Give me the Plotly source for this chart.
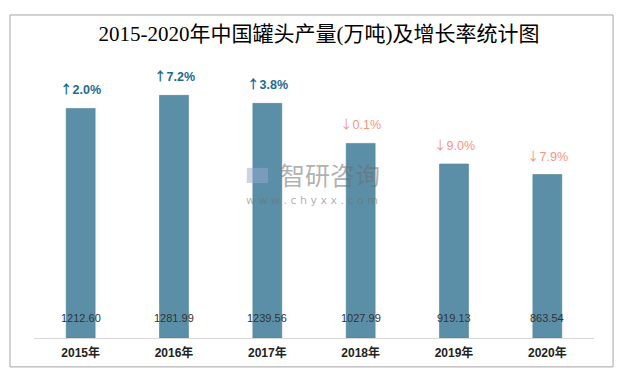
import plotly.graph_objects as go

years = ["2015年", "2016年", "2017年", "2018年", "2019年", "2020年"]
output = [1212.60, 1281.99, 1239.56, 1027.99, 919.13, 863.54]
growth = [2.0, 7.2, 3.8, -0.1, -9.0, -7.9]

UP = "#1C6A93"
DOWN = "#F4957E"
ARROW_SPAN = '<span style="font-family:Noto Sans CJK SC">{}</span>'

fig = go.Figure()
fig.add_trace(go.Bar(
    x=years, y=output, width=0.31,
    marker=dict(color="#5B8FA8", line=dict(color="#4F8199", width=0.6)),
    hoverinfo="x+y",
))

annotations = []
for x, v, g in zip(years, output, growth):
    annotations.append(dict(
        x=x, y=0, xref="x", yref="y", yanchor="bottom", yshift=12,
        text=f"{v:.2f}", showarrow=False,
        font=dict(family="Liberation Sans, Arial, sans-serif", size=11, color="#333333"),
    ))
    if g >= 0:
        txt = "<b>" + ARROW_SPAN.format("↑") + f"{abs(g):.1f}%</b>"
        col = UP
    else:
        txt = ARROW_SPAN.format("↓") + f"{abs(g):.1f}%"
        col = DOWN
    annotations.append(dict(
        x=x, y=v, xref="x", yref="y", yanchor="bottom", yshift=8,
        text=txt, showarrow=False,
        font=dict(family="Liberation Sans, Noto Sans CJK SC, sans-serif", size=12.5, color=col),
    ))

# watermark
annotations.append(dict(
    x=0.529, y=0.618, xref="paper", yref="paper", text="智研咨询", showarrow=False,
    xanchor="center", yanchor="middle",
    font=dict(family="Noto Sans CJK SC", size=25, color="rgba(110,110,110,0.55)"),
))
annotations.append(dict(
    x=0.496, y=0.518, xref="paper", yref="paper", text="w w w . c h y x x . c o m", showarrow=False,
    xanchor="center", yanchor="middle",
    font=dict(family="DejaVu Sans", size=11, color="rgba(110,110,110,0.55)"),
))

fig.update_layout(
    width=622, height=372,
    margin=dict(l=26, r=36, t=65, b=42),
    paper_bgcolor="white", plot_bgcolor="white",
    title=dict(
        text="2015-2020年中国罐头产量(万吨)及增长率统计图",
        x=0.5, xanchor="center", y=0.932, yanchor="middle",
        font=dict(family="Liberation Serif, Noto Sans CJK SC, serif", size=21, color="#000000"),
    ),
    xaxis=dict(
        showline=True, linecolor="#D9D9D9", linewidth=1, ticks="",
        ticklabelstandoff=4,
        tickfont=dict(family="Liberation Sans, Noto Sans CJK SC, sans-serif", size=12, color="#222222"),
        tickprefix="<b>", ticksuffix="</b>",
    ),
    yaxis=dict(range=[0, 1400], visible=False, showgrid=False),
    showlegend=False,
    annotations=annotations,
    shapes=[dict(
        type="rect", xref="paper", yref="paper",
        x0=-0.0429, x1=1.034, y0=-0.109, y1=1.219,
        line=dict(color="#A6A6A6", width=1), fillcolor="rgba(0,0,0,0)", layer="below",
    ), dict(
        type="rect", xref="paper", yref="paper",
        x0=0.380, x1=0.418, y0=0.585, y1=0.642,
        line=dict(width=0), fillcolor="rgba(150,170,205,0.5)",
    )],
)

fig.write_html("out.html")
